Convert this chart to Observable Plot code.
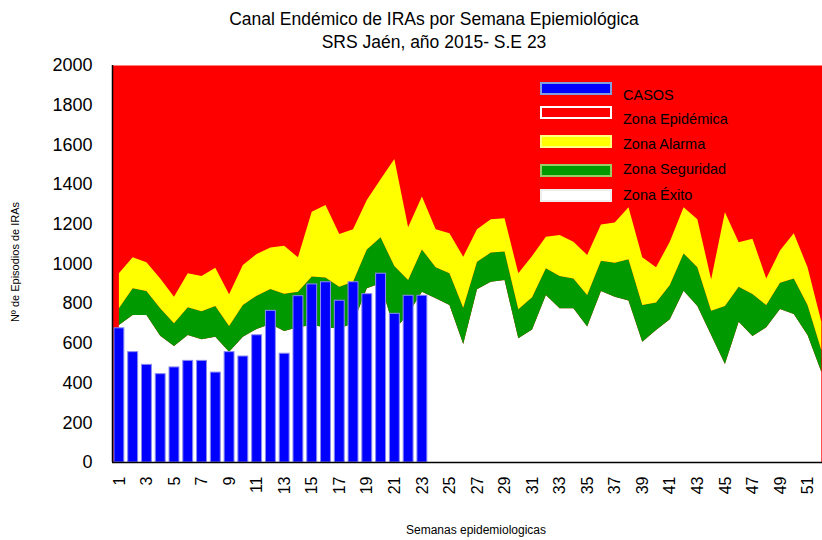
<!DOCTYPE html>
<html>
<head>
<meta charset="utf-8">
<script src="https://cdn.jsdelivr.net/npm/d3@7"></script>
<script src="https://cdn.jsdelivr.net/npm/@observablehq/plot@0.6"></script>
<style>
  body { margin: 0; background: #fff; font-family: "Liberation Sans", Arial, sans-serif; }
  #wrap { position: relative; width: 822px; height: 540px; overflow: hidden; }
  #title { position: absolute; left: 134px; width: 600px; top: 8px; text-align: center; font-size: 17.5px; line-height: 23px; color: #000; }
  .ylab { position: absolute; left: 15px; top: 262px; transform: translate(-50%, -50%) rotate(-90deg); font-size: 11px; white-space: nowrap; }
  .xlab { position: absolute; left: 476px; top: 530px; transform: translate(-50%, -50%); font-size: 12px; white-space: nowrap; }
  .sw { position: absolute; left: 540px; width: 68px; height: 9px; }
  .lt { position: absolute; left: 623px; font-size: 14.5px; white-space: nowrap; transform: translateY(-50%); color: #000; }
  #chart { position: absolute; left: 0; top: 0; }
</style>
</head>
<body>
<div id="wrap">
  <div id="chart"></div>
  <div id="title">Canal Endémico de IRAs por Semana Epiemiológica<br>SRS Jaén, año 2015- S.E 23</div>
  <div class="ylab">Nº de Episodios de IRAs</div>
  <div class="xlab">Semanas epidemiologicas</div>
  <div id="legend"></div>
</div>
<script>
// Semanas epidemiológicas
const weeks = d3.range(1, 53);
// Casos observados (semanas 1-23)
const casos = [676, 556, 492, 445, 479, 512, 512, 453, 556, 534, 641, 764, 548, 838, 897, 908, 815, 908, 848, 951, 749, 840, 840];
// Límite superior de la Zona Éxito (inferior de Seguridad)
const limiteExito = [690, 741, 741, 636, 584, 640, 618, 631, 556, 631, 670, 695, 660, 679, 690, 679, 673, 699, 875, 900, 665, 745, 858, 825, 791, 594, 870, 908, 917, 623, 668, 841, 774, 774, 682, 861, 833, 813, 606, 665, 719, 863, 786, 640, 494, 707, 635, 679, 771, 746, 640, 455];
// Límite superior de la Zona Seguridad
const limiteSeguridad = [774, 875, 861, 774, 699, 779, 759, 786, 685, 791, 838, 872, 848, 858, 934, 930, 883, 908, 1071, 1132, 987, 917, 1071, 981, 951, 777, 1009, 1055, 1061, 769, 830, 976, 937, 924, 841, 1014, 1004, 1021, 791, 803, 892, 1051, 981, 762, 786, 883, 846, 791, 903, 925, 791, 564];
// Límite superior de la Zona Alarma
const limiteAlarma = [951, 1031, 1006, 925, 833, 951, 937, 979, 845, 992, 1048, 1080, 1090, 1031, 1261, 1295, 1149, 1172, 1320, 1424, 1527, 1182, 1337, 1172, 1152, 1034, 1172, 1223, 1228, 951, 1038, 1135, 1144, 1110, 1043, 1197, 1206, 1283, 1031, 981, 1110, 1283, 1223, 920, 1258, 1107, 1125, 925, 1065, 1152, 981, 707];
// Etiquetas de ejes
const yTicks = [0, 200, 400, 600, 800, 1000, 1200, 1400, 1600, 1800, 2000];
const xTicks = d3.range(1, 53, 2);
// Leyenda
const legendLabels = ["CASOS", "Zona Epidémica", "Zona Alarma", "Zona Seguridad", "Zona Éxito"];

const zones = weeks.map((w, i) => ({week: w, lo: limiteExito[i], mid: limiteSeguridad[i], hi: limiteAlarma[i]}));
const casosData = casos.map((c, i) => ({week: weeks[i], casos: c}));

const chart = Plot.plot({
  width: 822,
  height: 540,
  marginTop: 65,
  marginBottom: 78,
  marginLeft: 112,
  marginRight: 0,
  style: {fontFamily: "'Liberation Sans', Arial, sans-serif", background: "transparent", color: "#000"},
  x: {type: "linear", domain: [0.5, 52.05]},
  y: {domain: [0, 2000]},
  marks: [
    Plot.frame({fill: "#ff0000", stroke: "none"}),
    Plot.areaY(zones, {x: "week", y1: 0, y2: "lo", fill: "#ffffff"}),
    Plot.areaY(zones, {x: "week", y1: "lo", y2: "mid", fill: "#009900"}),
    Plot.areaY(zones, {x: "week", y1: "mid", y2: "hi", fill: "#ffff00"}),
    Plot.rectY(casosData, {x1: d => d.week - 0.36, x2: d => d.week + 0.36, y1: 0, y2: "casos", fill: "#0000ff", stroke: "#8c8cf0", strokeWidth: 1}),
    Plot.ruleY([0], {stroke: "#000", strokeWidth: 1.5}),
    Plot.ruleX([0.5], {stroke: "#000", strokeWidth: 1.5}),
    Plot.axisY({ticks: yTicks, tickSize: 0, tickPadding: 20, fontSize: 18, label: null, tickFormat: d => String(d)}),
    Plot.axisX({ticks: xTicks, tickSize: 0, tickRotate: -90, tickPadding: 14, fontSize: 16, label: null, tickFormat: d => String(d)})
  ]
});
document.getElementById("chart").appendChild(chart);

// Leyenda (HTML)
const swStyles = [
  {fill: "#0000ff", border: "#7f9fdf", top: 82},
  {fill: "#ff0000", border: "#ffffff", top: 106},
  {fill: "#ffff00", border: "#ffff80", top: 135},
  {fill: "#009900", border: "#99cc66", top: 164},
  {fill: "#ffffff", border: "#eeeeee", top: 189}
];
const textTops = [95, 119, 144, 169, 195];
const legend = document.getElementById("legend");
legendLabels.forEach((lab, i) => {
  const s = document.createElement("div");
  s.className = "sw";
  s.style.top = swStyles[i].top + "px";
  s.style.background = swStyles[i].fill;
  s.style.border = "2px solid " + swStyles[i].border;
  legend.appendChild(s);
  const t = document.createElement("div");
  t.className = "lt";
  t.style.top = textTops[i] + "px";
  t.textContent = lab;
  legend.appendChild(t);
});
</script>
</body>
</html>
